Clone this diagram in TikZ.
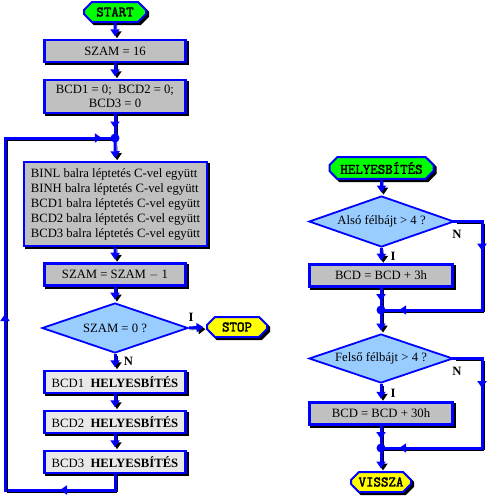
\documentclass[tikz,border=0pt]{standalone}
\usepackage{fontspec}
\setmainfont{Liberation Serif}
\newfontfamily\termfont[FakeBold=2.5]{Latin Modern Mono}
\usetikzlibrary{shapes.geometric,shapes.misc,arrows.meta,decorations.markings}
\definecolor{lineblue}{RGB}{0,0,255}
\definecolor{boxgray}{RGB}{192,192,192}
\definecolor{lightbox}{RGB}{232,232,232}
\definecolor{diafill}{RGB}{153,204,255}
\definecolor{termgreen}{RGB}{0,255,0}
\definecolor{termyellow}{RGB}{255,255,0}
\tikzset{
  shadowed/.style={preaction={fill=black,draw=black,transform canvas={shift={(2.2pt,-2.2pt)}}}},
  procbox/.style={rectangle,draw=lineblue,line width=2.5pt,fill=boxgray,shadowed,
    minimum width=141pt,minimum height=22pt,inner sep=2pt,font=\fontsize{12.7}{14}\selectfont},
  lightproc/.style={procbox,fill=lightbox},
  decision/.style={diamond,draw=lineblue,line width=1.8pt,fill=diafill,inner sep=0pt,
    shape aspect=2.9,minimum width=146pt,minimum height=50pt,font=\fontsize{12.7}{14}\selectfont},
  terminal/.style={chamfered rectangle,chamfered rectangle xsep=4pt,chamfered rectangle ysep=4pt,
    draw=lineblue,line width=2pt,shadowed,minimum height=20pt,inner sep=1pt,
    font=\fontsize{14.5}{15}\termfont},
  junction/.style={circle,fill=lineblue,inner sep=0pt,minimum size=9pt},
  flow/.style={draw=lineblue,line width=3pt,line cap=rect,
    preaction={draw=black,transform canvas={shift={(2pt,-2pt)}}}},
  tip/.style={flow,line cap=butt,-{Triangle[length=7pt,width=9pt]},shorten >=2.5pt},
  midarrow/.style={postaction={decorate,decoration={markings,
    mark=at position #1 with {\arrow{Triangle[length=7pt,width=9pt]}}}}},
  lbl/.style={font=\fontsize{12.7}{14}\selectfont\bfseries,inner sep=0pt}
}
\begin{document}
\begin{tikzpicture}[x=1pt,y=-1pt]
\useasboundingbox (0,0) rectangle (487,496);
% left column
\node[terminal,fill=termgreen,minimum width=62pt] (start) at (115,12) {START};
\node[procbox] (szam) at (115,51) {SZAM = 16};
\node[procbox,minimum height=33pt,align=center] (bcdzero) at (115,96.5) {BCD1 = 0;\ \ BCD2 = 0;\\BCD3 = 0};
\node[procbox,minimum width=183pt,minimum height=84pt,align=left,
  font=\fontsize{12.7}{15}\selectfont] (shift) at (115.5,204)
  {BINL balra léptetés C-vel együtt\\BINH balra léptetés C-vel együtt\\BCD1 balra léptetés C-vel együtt\\BCD2 balra léptetés C-vel együtt\\BCD3 balra léptetés C-vel együtt};
\node[procbox] (dec) at (115,274.5) {SZAM = SZAM $-$ 1};
\node[decision] (zero) at (115,328) {SZAM = 0 ?};
\node[terminal,fill=termyellow,minimum width=60pt] (stop) at (237,327) {STOP};
\node[lightproc] (h1) at (115,382) {BCD1\ \ \textbf{HELYESBÍTÉS}};
\node[lightproc] (h2) at (115,422) {BCD2\ \ \textbf{HELYESBÍTÉS}};
\node[lightproc] (h3) at (115,462) {BCD3\ \ \textbf{HELYESBÍTÉS}};
\coordinate (lb1) at (115,490);
\coordinate (lb2) at (5,490);
\coordinate (lt) at (5,138);
\node[lbl] (lI) at (191,317) {I};
\node[lbl] (lN) at (128.5,361.5) {N};

\draw[tip] (start) -- (szam);
\draw[tip] (szam) -- (bcdzero);
\draw[flow,midarrow=0.6] (bcdzero) -- (115,138);
\draw[tip] (115,138) -- (shift);
\draw[tip] (shift) -- (dec);
\draw[tip] (dec) -- (zero);
\draw[tip] (zero.east) -- (stop.west);
\draw[tip] (zero.south) -- (h1);
\draw[tip] (h1) -- (h2);
\draw[tip] (h2) -- (h3);
\draw[flow] (h3.south) -- (lb1);
\draw[flow,midarrow=0.5] (lb1) -- (lb2);
\draw[flow,midarrow=0.5] (lb2) -- (lt);
\draw[flow,midarrow=0.88] (lt) -- (115,138);
\node[junction] (j1) at (115,138) {};

% right column
\node[terminal,fill=termgreen,minimum width=104pt] (hstart) at (381.5,168) {HELYESBÍTÉS};
\node[decision,minimum width=145pt,minimum height=51pt] (lo) at (381.5,221.5) {Alsó félbájt > 4 ?};
\node[procbox,minimum width=143pt] (add3) at (381,275.5) {BCD = BCD + 3h};
\coordinate (r1a) at (482,221.5);
\coordinate (r1b) at (482,310);
\node[decision,minimum width=144pt,minimum height=49pt] (hi) at (381,358.5) {Felső félbájt > 4 ?};
\node[procbox,minimum width=143pt] (add30) at (381,413.5) {BCD = BCD + 30h};
\coordinate (r2a) at (482,358.5);
\coordinate (r2b) at (482,448);
\node[terminal,fill=termyellow,minimum width=60pt] (ret) at (381,482) {VISSZA};
\node[lbl] (rN1) at (457,234) {N};
\node[lbl] (rI1) at (393,256) {I};
\node[lbl] (rN2) at (457,371) {N};
\node[lbl] (rI2) at (393,393) {I};

\draw[tip] (hstart) -- (lo);
\draw[tip] (lo.south) -- (add3);
\draw[flow,midarrow=0.6] (add3) -- (381,310);
\draw[flow] (lo.east) -- (r1a);
\draw[flow,midarrow=0.33] (r1a) -- (r1b);
\draw[flow,midarrow=0.82] (r1b) -- (381,310);
\draw[tip] (381,310) -- (hi.north);
\draw[tip] (hi.south) -- (add30);
\draw[flow,midarrow=0.6] (add30) -- (381,448);
\draw[flow] (hi.east) -- (r2a);
\draw[flow,midarrow=0.33] (r2a) -- (r2b);
\draw[flow,midarrow=0.82] (r2b) -- (381,448);
\draw[tip] (381,448) -- (ret);
\node[junction] (j2) at (381,310) {};
\node[junction] (j3) at (381,448) {};
\end{tikzpicture}
\end{document}
